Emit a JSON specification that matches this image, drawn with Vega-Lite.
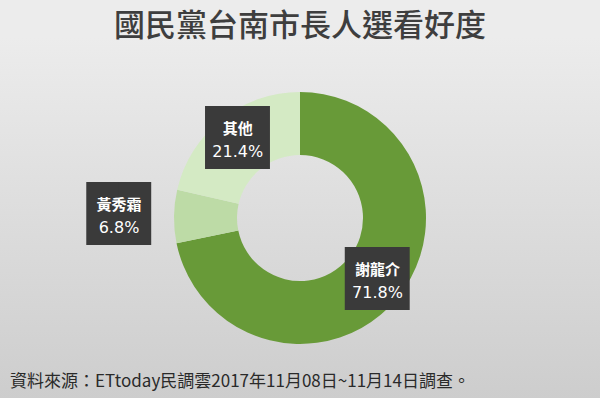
{
  "$schema": "https://vega.github.io/schema/vega-lite/v6.json",
  "background": "#ececec",
  "padding": {"top": 11, "left": 0, "right": 0, "bottom": 0},
  "data": {"values": [
    {"name": "謝龍介", "value": 71.8},
    {"name": "黃秀霜", "value": 6.8},
    {"name": "其他", "value": 21.4}
  ]},
  "title": {
    "text": "國民黨台南市長人選看好度",
    "font": "Noto Sans CJK TC",
    "fontSize": 31,
    "fontWeight": 500,
    "color": "#3e3e3e",
    "anchor": "middle",
    "offset": -6
  },
  "vconcat": [
    {
      "width": 600,
      "height": 362,
      "view": {
        "stroke": null,
        "fill": {
          "gradient": "linear",
          "x1": 0, "y1": 0, "x2": 0, "y2": 1,
          "stops": [{"offset": 0, "color": "#ececec"}, {"offset": 1, "color": "#cdcdcd"}]
        }
      },
      "title": {
        "text": "資料來源：ETtoday民調雲2017年11月08日~11月14日調查。",
        "orient": "bottom",
        "anchor": "start",
        "offset": -25,
        "dx": 10,
        "font": "Noto Sans CJK TC",
        "fontSize": 17,
        "fontWeight": "normal",
        "color": "#2a2a2a"
      },
      "transform": [
        {"window": [{"op": "row_number", "as": "idx"}]},
        {"stack": "value", "groupby": [], "sort": [{"field": "idx"}], "as": ["v0", "v1"]},
        {"calculate": "(datum.v0 + datum.v1) / 2", "as": "mid"},
        {"calculate": "format(datum.value, '.1f') + '%'", "as": "pct"}
      ],
      "layer": [
        {
          "mark": {"type": "arc", "outerRadius": 126, "innerRadius": 63},
          "encoding": {
            "theta": {"field": "v0", "type": "quantitative", "scale": {"domain": [0, 100]}},
            "theta2": {"field": "v1"},
            "color": {
              "field": "name",
              "type": "nominal",
              "legend": null,
              "scale": {"domain": ["謝龍介", "黃秀霜", "其他"], "range": ["#689a38", "#bddba6", "#d4eac4"]}
            }
          }
        },
        {
          "transform": [{"filter": "datum.name !== '黃秀霜'"}],
          "layer": [
            {
              "mark": {"type": "text", "font": "DejaVu Sans Mono", "fontSize": 53, "baseline": "middle", "align": "center", "color": "#3a3a3a", "radius": 100},
              "encoding": {
                "theta": {"field": "mid", "type": "quantitative", "scale": {"domain": [0, 100]}},
                "text": {"value": "██"}
              }
            },
            {
              "mark": {"type": "text", "font": "Noto Sans CJK TC", "fontSize": 15, "fontWeight": "bold", "baseline": "middle", "align": "center", "dy": -11, "color": "#ffffff", "radius": 100},
              "encoding": {
                "theta": {"field": "mid", "type": "quantitative", "scale": {"domain": [0, 100]}},
                "text": {"field": "name"}
              }
            },
            {
              "mark": {"type": "text", "font": "DejaVu Sans", "fontSize": 16, "baseline": "middle", "align": "center", "dy": 12, "color": "#ffffff", "radius": 100},
              "encoding": {
                "theta": {"field": "mid", "type": "quantitative", "scale": {"domain": [0, 100]}},
                "text": {"field": "pct"}
              }
            }
          ]
        },
        {
          "transform": [{"filter": "datum.name === '黃秀霜'"}],
          "layer": [
            {
              "mark": {"type": "text", "font": "DejaVu Sans Mono", "fontSize": 53, "baseline": "middle", "align": "center", "color": "#3a3a3a", "radius": 181},
              "encoding": {
                "theta": {"field": "mid", "type": "quantitative", "scale": {"domain": [0, 100]}},
                "text": {"value": "██"}
              }
            },
            {
              "mark": {"type": "text", "font": "Noto Sans CJK TC", "fontSize": 15, "fontWeight": "bold", "baseline": "middle", "align": "center", "dy": -11, "color": "#ffffff", "radius": 181},
              "encoding": {
                "theta": {"field": "mid", "type": "quantitative", "scale": {"domain": [0, 100]}},
                "text": {"field": "name"}
              }
            },
            {
              "mark": {"type": "text", "font": "DejaVu Sans", "fontSize": 16, "baseline": "middle", "align": "center", "dy": 12, "color": "#ffffff", "radius": 181},
              "encoding": {
                "theta": {"field": "mid", "type": "quantitative", "scale": {"domain": [0, 100]}},
                "text": {"field": "pct"}
              }
            }
          ]
        }
      ]
    }
  ],
  "config": {
    "concat": {"spacing": 0}
  }
}
